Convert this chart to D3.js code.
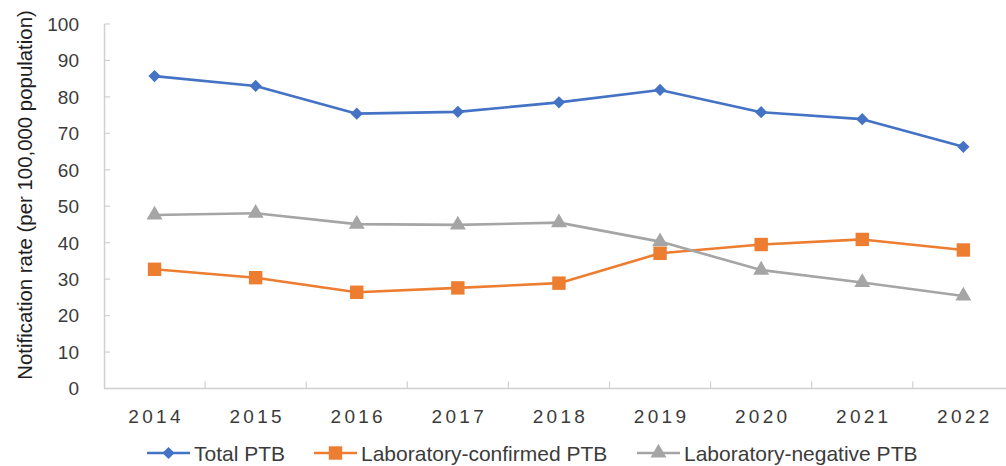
<!DOCTYPE html>
<html>
<head>
<meta charset="utf-8">
<script src="https://cdn.jsdelivr.net/npm/d3@7"></script>
<style>
  html, body { margin: 0; padding: 0; background: #fff; }
  svg { display: block; font-family: "Liberation Sans", Arial, sans-serif; }
</style>
</head>
<body>
<svg id="chart" width="1006" height="466"></svg>
<script>
// Pulmonary TB notification rates per 100,000 population, 2014–2022
const years = ["2014", "2015", "2016", "2017", "2018", "2019", "2020", "2021", "2022"];
const totalPTB = [85.7, 83.0, 75.4, 75.9, 78.5, 81.9, 75.8, 73.9, 66.3];
const confirmedPTB = [32.7, 30.4, 26.4, 27.6, 28.9, 37.1, 39.5, 40.9, 38.0];
const negativePTB = [47.6, 48.1, 45.1, 44.9, 45.5, 40.3, 32.5, 29.1, 25.4];
const yTicks = [0, 10, 20, 30, 40, 50, 60, 70, 80, 90, 100];
const seriesNames = ["Total PTB", "Laboratory-confirmed PTB", "Laboratory-negative PTB"];

// diamond = square turned 45°, same width and height
const series = [
  { name: seriesNames[0], values: totalPTB, color: "#4472C4", symbol: d3.symbolSquare, size: 75, rotate: 45 },
  { name: seriesNames[1], values: confirmedPTB, color: "#ED7D31", symbol: d3.symbolSquare, size: 180, rotate: 0 },
  { name: seriesNames[2], values: negativePTB, color: "#A5A5A5", symbol: d3.symbolTriangle, size: 110, rotate: 0 }
];

const svg = d3.select("#chart");
const textColor = "#3b3b3b";
const axisColor = "#d0d0d0";

const x = d3.scaleBand().domain(years).range([104, 104 + 9 * 101.1]).padding(0);
const y = d3.scaleLinear().domain([0, 100]).range([388.5, 24]);

// y axis: line, inner ticks and labels
const yAxis = svg.append("g");
yAxis.append("line")
  .attr("x1", 104.5).attr("x2", 104.5)
  .attr("y1", y(100)).attr("y2", y(0))
  .attr("stroke", axisColor).attr("stroke-width", 1.5);
yAxis.selectAll("line.tick").data(yTicks).enter().append("line")
  .attr("class", "tick")
  .attr("x1", 104.5).attr("x2", 110)
  .attr("y1", d => y(d)).attr("y2", d => y(d))
  .attr("stroke", axisColor).attr("stroke-width", 1.2);
yAxis.selectAll("text").data(yTicks).enter().append("text")
  .attr("x", 79).attr("y", d => y(d))
  .attr("dy", "0.36em")
  .attr("text-anchor", "end")
  .attr("font-size", 19)
  .attr("fill", textColor)
  .text(d => d);

// y axis title
svg.append("text")
  .attr("transform", `translate(32,${195}) rotate(-90)`)
  .attr("text-anchor", "middle")
  .attr("font-size", 20.4)
  .attr("fill", "#1e1e1e")
  .text("Notification rate (per 100,000 population)");

// x axis: baseline, ticks between categories, labels
const xAxis = svg.append("g");
xAxis.append("line")
  .attr("x1", 104).attr("x2", 1006)
  .attr("y1", y(0)).attr("y2", y(0))
  .attr("stroke", axisColor).attr("stroke-width", 1.5);
xAxis.selectAll("line.tick").data(years.slice(1)).enter().append("line")
  .attr("class", "tick")
  .attr("x1", d => x(d)).attr("x2", d => x(d))
  .attr("y1", y(0)).attr("y2", y(0) - 7)
  .attr("stroke", axisColor).attr("stroke-width", 1.2);
xAxis.selectAll("text").data(years).enter().append("text")
  .attr("x", d => x(d) + x.bandwidth() / 2 + 1.5)
  .attr("y", 423)
  .attr("text-anchor", "middle")
  .attr("font-size", 19)
  .attr("letter-spacing", "3.3px")
  .attr("fill", textColor)
  .text(d => d);

// series lines and markers
const line = d3.line()
  .x((d, i) => x(years[i]) + x.bandwidth() / 2)
  .y(d => y(d));

series.forEach(s => {
  svg.append("path")
    .attr("d", line(s.values))
    .attr("fill", "none")
    .attr("stroke", s.color)
    .attr("stroke-width", 2.6)
    .attr("stroke-linejoin", "round");
  svg.selectAll(null).data(s.values).enter().append("path")
    .attr("d", d3.symbol().type(s.symbol).size(s.size))
    .attr("transform", (d, i) => `translate(${x(years[i]) + x.bandwidth() / 2},${y(d)}) rotate(${s.rotate})`)
    .attr("fill", s.color);
});

// legend
const legendItems = [
  { s: series[0], x0: 147 },
  { s: series[1], x0: 314 },
  { s: series[2], x0: 637 }
];
const ly = 453;
legendItems.forEach(({ s, x0 }) => {
  const g = svg.append("g");
  g.append("line")
    .attr("x1", x0).attr("x2", x0 + 43)
    .attr("y1", ly).attr("y2", ly)
    .attr("stroke", s.color).attr("stroke-width", 2.6);
  g.append("path")
    .attr("d", d3.symbol().type(s.symbol).size(s.size))
    .attr("transform", `translate(${x0 + 21.5},${ly}) rotate(${s.rotate})`)
    .attr("fill", s.color);
  g.append("text")
    .attr("x", x0 + 47)
    .attr("y", ly)
    .attr("dy", "0.36em")
    .attr("font-size", 21)
    .attr("fill", textColor)
    .text(s.name);
});
</script>
</body>
</html>
